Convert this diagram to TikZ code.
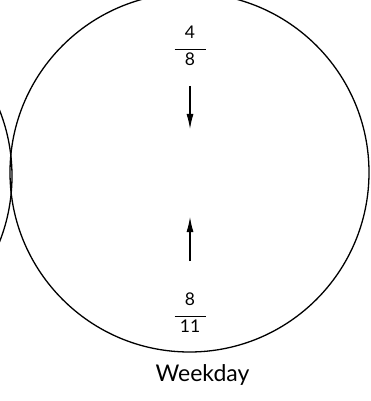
\documentclass[tikz,border=0pt]{standalone}
\usepackage{fontspec}
\setmainfont{Lato}
\usetikzlibrary{arrows.meta}
\tikzset{
  ring/.style={draw, line width=1.3pt},
  frac/.style={align=center, inner sep=0pt, font=\fontsize{17.5}{17.5}\selectfont},
  lbl/.style={inner sep=0pt, font=\fontsize{23}{23}\selectfont},
  arr/.style={line width=1.1pt, -{Latex[length=15pt,width=7pt]}}
}
\begin{document}
\begin{tikzpicture}[x=1pt,y=-1pt]
\useasboundingbox (0,0) rectangle (370,401);
\clip (0,0) rectangle (370,401);
\node[ring, circle, minimum size=359pt, inner sep=0pt] (main) at (189.5,172.5) {};
\node[ring, circle, minimum size=359pt, inner sep=0pt] (left) at (-167.5,176) {};
\node[frac] (top) at (190,45.5) {4\\[-5.5pt]\rule{31pt}{1pt}\\[-2.5pt]8};
\node[frac] (bot) at (190,312.5) {8\\[-5.5pt]\rule{31pt}{1pt}\\[-2.5pt]11};
\coordinate (t1) at (190,86);
\coordinate (t2) at (190,129);
\coordinate (b1) at (190,261);
\coordinate (b2) at (190,217);
\draw[arr] (t1) -- (t2);
\draw[arr] (b1) -- (b2);
\node[lbl] (wd) at (202.5,375) {Weekday};
\end{tikzpicture}
\end{document}
